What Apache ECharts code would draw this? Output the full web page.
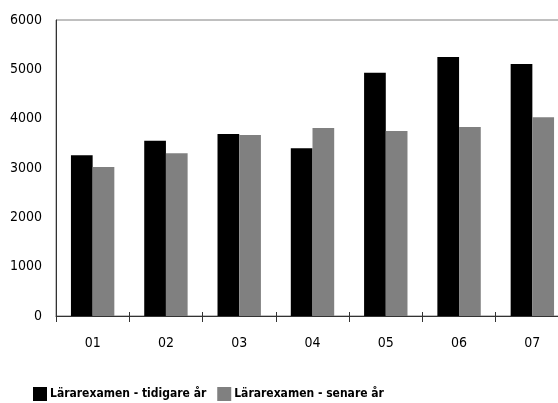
<!DOCTYPE html>
<html><head><meta charset="utf-8">
<script src="https://cdn.jsdelivr.net/npm/echarts@6/dist/echarts.min.js"></script>
<style>html,body{margin:0;padding:0;background:#fff}#c{width:558px;height:403px}</style>
</head><body><div id="c"></div>
<script>
const categories = ['01','02','03','04','05','06','07'];
const tidigare = [3260, 3550, 3690, 3400, 4930, 5250, 5110];
const senare = [3020, 3300, 3670, 3810, 3750, 3830, 4030];
const seriesNames = ['Lärarexamen - tidigare år', 'Lärarexamen - senare år'];
const yTicks = [0, 1000, 2000, 3000, 4000, 5000, 6000];

const FONT = '"DejaVu Sans Condensed", "Liberation Sans Narrow", sans-serif';
const chart = echarts.init(document.getElementById('c'));
chart.setOption({
  animation: false,
  textStyle: {fontFamily: FONT},
  grid: {left: 56, top: 20, width: 513, height: 296, outerBoundsMode: 'none', containLabel: false,
         show: true, borderColor: '#808080', borderWidth: 1},
  legend: {
    left: 28, top: 382, itemWidth: 14, itemHeight: 14, itemGap: 11,
    icon: 'rect',
    textStyle: {fontFamily: FONT, fontSize: 12, fontWeight: 'bold', color: '#000', padding: [0,0,0,-2]},
    data: seriesNames
  },
  xAxis: [{
    type: 'category', data: categories,
    axisLine: {lineStyle: {color: '#333', width: 1}},
    axisTick: {show: true, length: 6, lineStyle: {color: '#333'}},
    axisLabel: {color: '#000', fontSize: 14, margin: 20, fontFamily: FONT}
  }, {
    type: 'category', data: categories, position: 'bottom',
    axisLine: {show: false},
    axisTick: {show: true, inside: true, length: 4, lineStyle: {color: '#333'}},
    axisLabel: {show: false}
  }],
  yAxis: {
    type: 'value', min: yTicks[0], max: yTicks[yTicks.length-1], interval: 1000,
    splitLine: {show: false},
    axisLine: {show: true, lineStyle: {color: '#333', width: 1}},
    axisTick: {show: false},
    axisLabel: {color: '#000', fontSize: 14, margin: 14, fontFamily: FONT, formatter: v => String(v)}
  },
  series: [
    {name: seriesNames[0], type: 'bar', data: tidigare, barWidth: 21.7, barGap: '0%', itemStyle: {color: '#000000'}},
    {name: seriesNames[1], type: 'bar', data: senare, barWidth: 21.7, barGap: '0%', itemStyle: {color: '#808080'}}
  ]
});
</script></body></html>
